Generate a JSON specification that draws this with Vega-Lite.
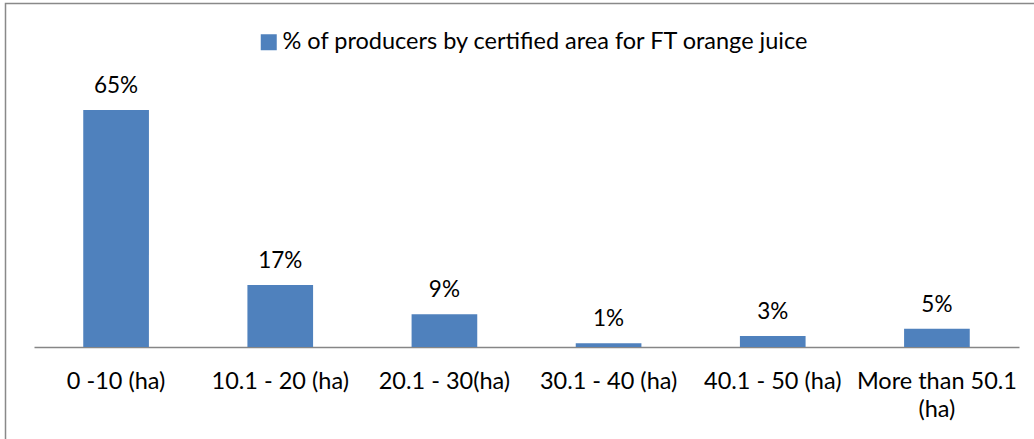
{
  "$schema": "https://vega.github.io/schema/vega-lite/v6.json",
  "width": 1030.5,
  "height": 437.5,
  "autosize": "none",
  "padding": {"left": 5.5, "top": 3.5, "right": -2, "bottom": -2},
  "background": "white",
  "config": {
    "view": {"stroke": "#898989", "strokeWidth": 1.5},
    "font": "Lato"
  },
  "data": {
    "values": [
      {"area": "0 -10 (ha)", "pct": 0.65},
      {"area": "10.1 - 20 (ha)", "pct": 0.17},
      {"area": "20.1 - 30(ha)", "pct": 0.09},
      {"area": "30.1 - 40 (ha)", "pct": 0.01},
      {"area": "40.1 - 50 (ha)", "pct": 0.03},
      {"area": "More than 50.1 (ha)", "pct": 0.05}
    ]
  },
  "encoding": {
    "x": {
      "field": "area",
      "type": "nominal",
      "sort": null,
      "scale": {"range": [28.5, 1013.5], "paddingInner": 0.6, "paddingOuter": 0.3},
      "axis": {
        "title": null,
        "orient": "bottom",
        "offset": -94,
        "ticks": false,
        "labelAngle": 0,
        "labelPadding": 41,
        "labelBaseline": "alphabetic",
        "labelFontSize": 23.5,
        "labelFont": "Lato",
        "labelColor": "#000000",
        "labelLineHeight": 28,
        "labelLimit": 0,
        "labelExpr": "datum.label == 'More than 50.1 (ha)' ? ['More than 50.1', '(ha)'] : datum.label",
        "domainColor": "#868686",
        "domainWidth": 1.5,
        "grid": false
      }
    },
    "y": {
      "field": "pct",
      "type": "quantitative",
      "scale": {"domain": [0, 0.7], "range": [343.5, 88.3], "nice": false},
      "axis": null
    }
  },
  "layer": [
    {
      "mark": {"type": "bar"},
      "encoding": {
        "color": {
          "datum": "% of producers by certified area for FT orange juice",
          "type": "nominal",
          "scale": {"range": ["#4F81BD"]},
          "legend": {
            "title": null,
            "orient": "none",
            "legendX": 251.5,
            "legendY": 27,
            "padding": 0,
            "symbolType": "square",
            "symbolSize": 256,
            "symbolStrokeWidth": 0,
            "symbolOpacity": 1,
            "labelFontSize": 23.5,
            "labelFont": "Lato",
            "labelColor": "#000000",
            "labelLimit": 0,
            "labelOffset": 2
          }
        }
      }
    },
    {
      "mark": {"type": "text", "dy": -17, "baseline": "alphabetic", "fontSize": 22.5, "color": "#000000", "font": "Lato"},
      "encoding": {"text": {"field": "pct", "format": ".0%"}}
    }
  ]
}
